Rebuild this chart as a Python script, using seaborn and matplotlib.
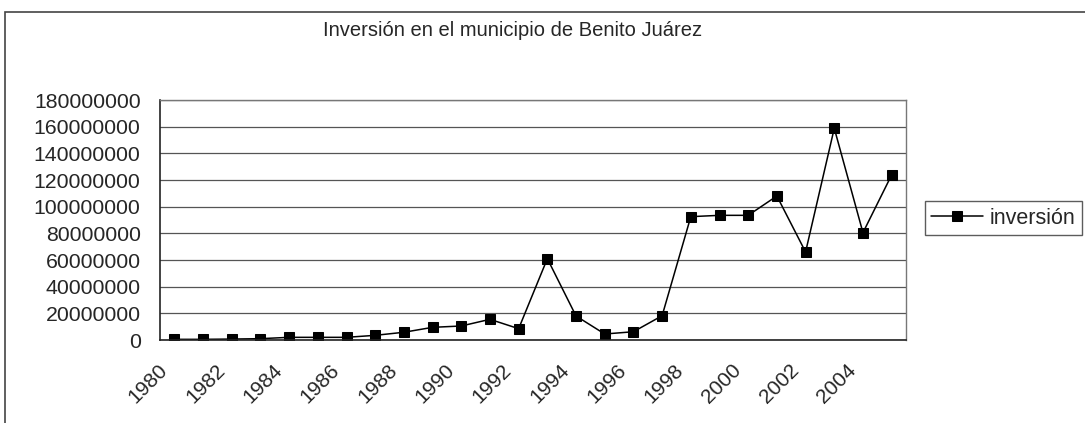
import matplotlib
matplotlib.use('Agg')
import matplotlib.pyplot as plt
from matplotlib.patches import Rectangle
from matplotlib.ticker import FuncFormatter, MultipleLocator
from matplotlib.transforms import ScaledTranslation
import numpy as np
import pandas as pd
import seaborn as sns

# values (pesos)
years = list(range(1980, 2006))
inversion = [0.5e6, 0.5e6, 0.7e6, 1.0e6, 2.0e6, 2.0e6, 2.0e6, 3.5e6,
             5.8e6, 9.5e6, 10.5e6, 15.5e6, 8.5e6, 61e6, 18e6, 4.5e6,
             6.2e6, 18.2e6, 92.5e6, 93.5e6, 93.5e6, 108e6, 66e6, 158.8e6,
             80.5e6, 123.8e6]
tick_years = list(range(1980, 2005, 2))

df = pd.DataFrame({'year': years, 'inversion': inversion})

sns.set_style('white')
plt.rcParams['font.family'] = ['Liberation Sans', 'DejaVu Sans']

fig = plt.figure(figsize=(10.85, 4.23), dpi=100)
ax = fig.add_axes([160 / 1085, 1 - 340 / 423, 746 / 1085, 240 / 423])

sns.lineplot(data=df, x='year', y='inversion', ax=ax, color='black',
             linewidth=1.1, marker='s', markersize=7, markerfacecolor='black',
             markeredgecolor='black', label='inversión')

ax.set_xlim(1979.5, 2005.5)
ax.set_ylim(0, 180e6)
ax.yaxis.set_major_locator(MultipleLocator(20e6))
ax.yaxis.set_major_formatter(FuncFormatter(lambda v, p: f'{v:.0f}'))
ax.set_xticks(tick_years)
ax.set_xticklabels([str(y) for y in tick_years], rotation=45, ha='right',
                   rotation_mode='anchor')
ax.set_xticks(np.arange(1979.5, 2006, 1), minor=True)
ax.tick_params(axis='x', which='major', length=0, pad=15, labelsize=15)
ax.tick_params(axis='x', which='minor', length=5, width=1, direction='inout',
               color='#333333')
ax.tick_params(axis='y', which='major', length=6, width=1, color='#333333',
               labelsize=15.3, pad=8)
shift = ScaledTranslation(-12 / 72, 0, fig.dpi_scale_trans)
for lab in ax.get_xticklabels():
    lab.set_transform(lab.get_transform() + shift)
ax.grid(axis='y', color='#555555', linewidth=0.9)
ax.set_axisbelow(True)
for side in ('left', 'bottom'):
    ax.spines[side].set_color('#222222')
    ax.spines[side].set_linewidth(1.2)
for side in ('top', 'right'):
    ax.spines[side].set_color('#777777')
    ax.spines[side].set_linewidth(1)
ax.set_xlabel('')
ax.set_ylabel('')

fig.text(513 / 1085, 1 - 31 / 423,
         'Inversión en el municipio de Benito Juárez',
         ha='center', va='center', fontsize=14.5)

leg = ax.legend(loc='center left', bbox_to_anchor=(925 / 1085, 1 - 218 / 423),
                bbox_transform=fig.transFigure, fontsize=15.5, frameon=True,
                fancybox=False, handlelength=2.4, handletextpad=0.3,
                borderpad=0.3, borderaxespad=0)
leg.get_frame().set_edgecolor('#333333')
leg.get_frame().set_linewidth(1)

# outer chart border (cropped at right and bottom)
fig.patches.append(Rectangle((5 / 1085, -0.05), 1.2, 1 - 12 / 423 + 0.05,
                             transform=fig.transFigure, fill=False,
                             edgecolor='#444444', linewidth=1.2))

fig.savefig('out.png', dpi=100, facecolor='white')
